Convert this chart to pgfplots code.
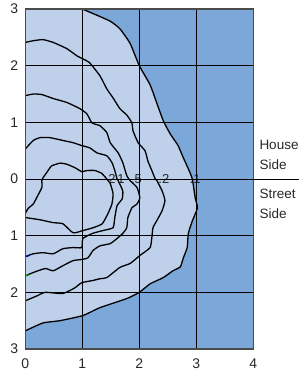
\documentclass[border=0pt]{standalone}
\usepackage{fontspec}
\setmainfont{Liberation Sans}
\usepackage{pgfplots}
\pgfplotsset{compat=1.18}
\definecolor{darkbl}{RGB}{123,167,217}
\definecolor{lightbl}{RGB}{190,208,234}
\definecolor{txt}{RGB}{40,40,40}
\begin{document}
\begin{tikzpicture}
\begin{axis}[
  width=228pt, height=340pt, scale only axis,
  xmin=0, xmax=4, ymin=-3, ymax=3,
  xtick={0,1,2,3,4}, ytick={-3,-2,-1,0,1,2,3},
  yticklabels={3,2,1,0,1,2,\raisebox{-4.5pt}{3}},
  /pgf/number format/assume math mode=true,
  tick label style={font=\fontsize{14}{16}\selectfont, text=txt},
  xticklabel style={yshift=-6pt},
  yticklabel style={xshift=-3.6pt},
  major tick length=0pt,
  grid=major, major grid style={black, line width=0.9pt},
  axis line style={draw=black!70, line width=1.2pt},
  axis background/.style={fill=darkbl},
  axis on top,
  name=ax,
]
% filled region inside the .1 contour
\addplot[fill=lightbl, draw=none] coordinates {
 (0,3) (1.0,3.0) (1.48,2.79) (1.66,2.65) (1.84,2.39) (2.0,2.0) (2.19,1.66) (2.31,1.33)
 (2.42,1.03) (2.54,0.80) (2.68,0.59) (2.77,0.38) (2.86,0.18) (2.93,0.0) (2.98,-0.33)
 (3.02,-0.51) (2.93,-0.74) (2.86,-0.96) (2.84,-1.21) (2.77,-1.40) (2.72,-1.55) (2.59,-1.62)
 (2.42,-1.74) (2.19,-1.85) (2.0,-2.0) (1.78,-2.11) (1.31,-2.27) (1.01,-2.41) (0.61,-2.50)
 (0.31,-2.54) (0,-2.68) } -- cycle;
% .1 contour
\addplot[black, line width=1.3pt, smooth, tension=0.3] coordinates {
 (1.0,3.0) (1.48,2.79) (1.66,2.65) (1.84,2.39) (2.0,2.0) (2.19,1.66) (2.31,1.33)
 (2.42,1.03) (2.54,0.80) (2.68,0.59) (2.77,0.38) (2.86,0.18) (2.93,0.0) (2.98,-0.33)
 (3.02,-0.51) (2.93,-0.74) (2.86,-0.96) (2.84,-1.21) (2.77,-1.40) (2.72,-1.55) (2.59,-1.62)
 (2.42,-1.74) (2.19,-1.85) (2.0,-2.0) (1.78,-2.11) (1.31,-2.27) (1.01,-2.41) (0.61,-2.50)
 (0.31,-2.54) (0,-2.68) };
% .2 contour
\addplot[black, line width=1.3pt, smooth, tension=0.3] coordinates {
 (0,2.41) (0.14,2.44) (0.31,2.46) (0.49,2.41) (0.73,2.30) (0.91,2.17) (1.01,2.12) (1.13,2.05)
 (1.31,1.82) (1.43,1.59) (1.54,1.43) (1.66,1.24) (1.78,1.13) (1.87,0.99) (1.89,0.85)
 (1.98,0.64) (2.10,0.50) (2.15,0.32) (2.22,0.15) (2.28,0.0) (2.31,-0.03) (2.40,-0.21)
 (2.45,-0.38) (2.40,-0.56) (2.31,-0.73) (2.24,-0.86) (2.22,-1.03) (2.19,-1.21) (2.01,-1.35)
 (1.84,-1.49) (1.66,-1.56) (1.43,-1.74) (1.31,-1.76) (1.19,-1.79) (0.99,-1.83) (0.87,-1.92)
 (0.66,-2.02) (0.35,-2.00) (0.21,-2.06) (0,-2.15) };
% .5 contour
\addplot[black, line width=1.3pt, smooth, tension=0.3] coordinates {
 (0,1.47) (0.14,1.50) (0.29,1.49) (0.49,1.42) (0.73,1.35) (0.96,1.24) (1.08,1.15) (1.17,0.99)
 (1.31,0.94) (1.43,0.82) (1.49,0.64) (1.63,0.46) (1.71,0.29) (1.78,0.06) (1.84,-0.03)
 (1.96,-0.15) (2.01,-0.33) (1.96,-0.44) (1.87,-0.51) (1.80,-0.68) (1.78,-0.86) (1.71,-0.96)
 (1.61,-1.05) (1.49,-1.14) (1.31,-1.18) (1.19,-1.26) (1.10,-1.39) (0.99,-1.42) (0.84,-1.44)
 (0.66,-1.53) (0.49,-1.62) (0.35,-1.58) (0.14,-1.65) (0,-1.71) };
% 1 contour
\addplot[black, line width=1.3pt, smooth, tension=0.3] coordinates {
 (0,0.53) (0.14,0.68) (0.26,0.73) (0.43,0.73) (0.66,0.68) (0.84,0.64) (0.99,0.59) (1.13,0.55)
 (1.26,0.46) (1.43,0.41) (1.52,0.29) (1.57,0.15) (1.61,0.0) (1.63,-0.03) (1.71,-0.21)
 (1.70,-0.35) (1.61,-0.47) (1.57,-0.68) (1.54,-0.86) (1.36,-0.91) (1.18,-0.96) (1.01,-1.05)
 (0.99,-1.21) (0.84,-1.21) (0.66,-1.23) (0.49,-1.32) (0.31,-1.30) (0.14,-1.32) (0,-1.37) };
% 2 contour
\addplot[black, line width=1.3pt, smooth, tension=0.3] coordinates {
 (0,-0.61) (0.05,-0.52) (0.14,-0.44) (0.2,-0.33) (0.29,-0.15) (0.29,-0.03) (0.31,0.02)
 (0.38,0.12) (0.46,0.23) (0.61,0.28) (0.73,0.26) (0.87,0.20) (0.99,0.13) (1.08,0.15)
 (1.22,0.15) (1.34,0.10) (1.43,0.0) (1.49,-0.08) (1.54,-0.26) (1.52,-0.44) (1.45,-0.61)
 (1.35,-0.79) (1.19,-0.86) (1.01,-0.91) (0.84,-0.95) (0.66,-0.79) (0.49,-0.77) (0.26,-0.72)
 (0,-0.68) };
% small coloured stubs at the left edge
\addplot[blue!70!black, line width=1.3pt] coordinates {(0,-1.37) (0.07,-1.35)};
\addplot[green!60!black, line width=1.3pt] coordinates {(0,-1.71) (0.07,-1.69)};
% contour labels
\node[text=txt, font=\fontsize{13}{15}\selectfont, inner sep=0pt] at (axis cs:1.52,0) {2};
\node[text=txt, font=\fontsize{13}{15}\selectfont, inner sep=0pt] at (axis cs:1.68,0) {1};
\node[text=txt, font=\fontsize{13}{15}\selectfont, inner sep=0pt] at (axis cs:1.95,0) {.5};
\node[text=txt, font=\fontsize{13}{15}\selectfont, inner sep=0pt] at (axis cs:2.43,0) {.2};
\node[text=txt, font=\fontsize{13}{15}\selectfont, inner sep=0pt] at (axis cs:2.98,0) {.1};
\coordinate (zr) at (axis cs:4,0);
\end{axis}
\draw[black, line width=0.9pt] (zr) -- ++(50pt,0);
\node[anchor=south west, align=left, text=txt, font=\fontsize{13.5}{20}\selectfont, inner sep=0pt] at ([xshift=6pt,yshift=9pt]zr) {House\\Side};
\node[anchor=north west, align=left, text=txt, font=\fontsize{13.5}{20}\selectfont, inner sep=0pt] at ([xshift=6pt,yshift=-10pt]zr) {Street\\Side};
\pgfresetboundingbox
\path (-25.3pt,-22pt) rectangle (272.7pt,349pt);
\end{tikzpicture}
\end{document}
